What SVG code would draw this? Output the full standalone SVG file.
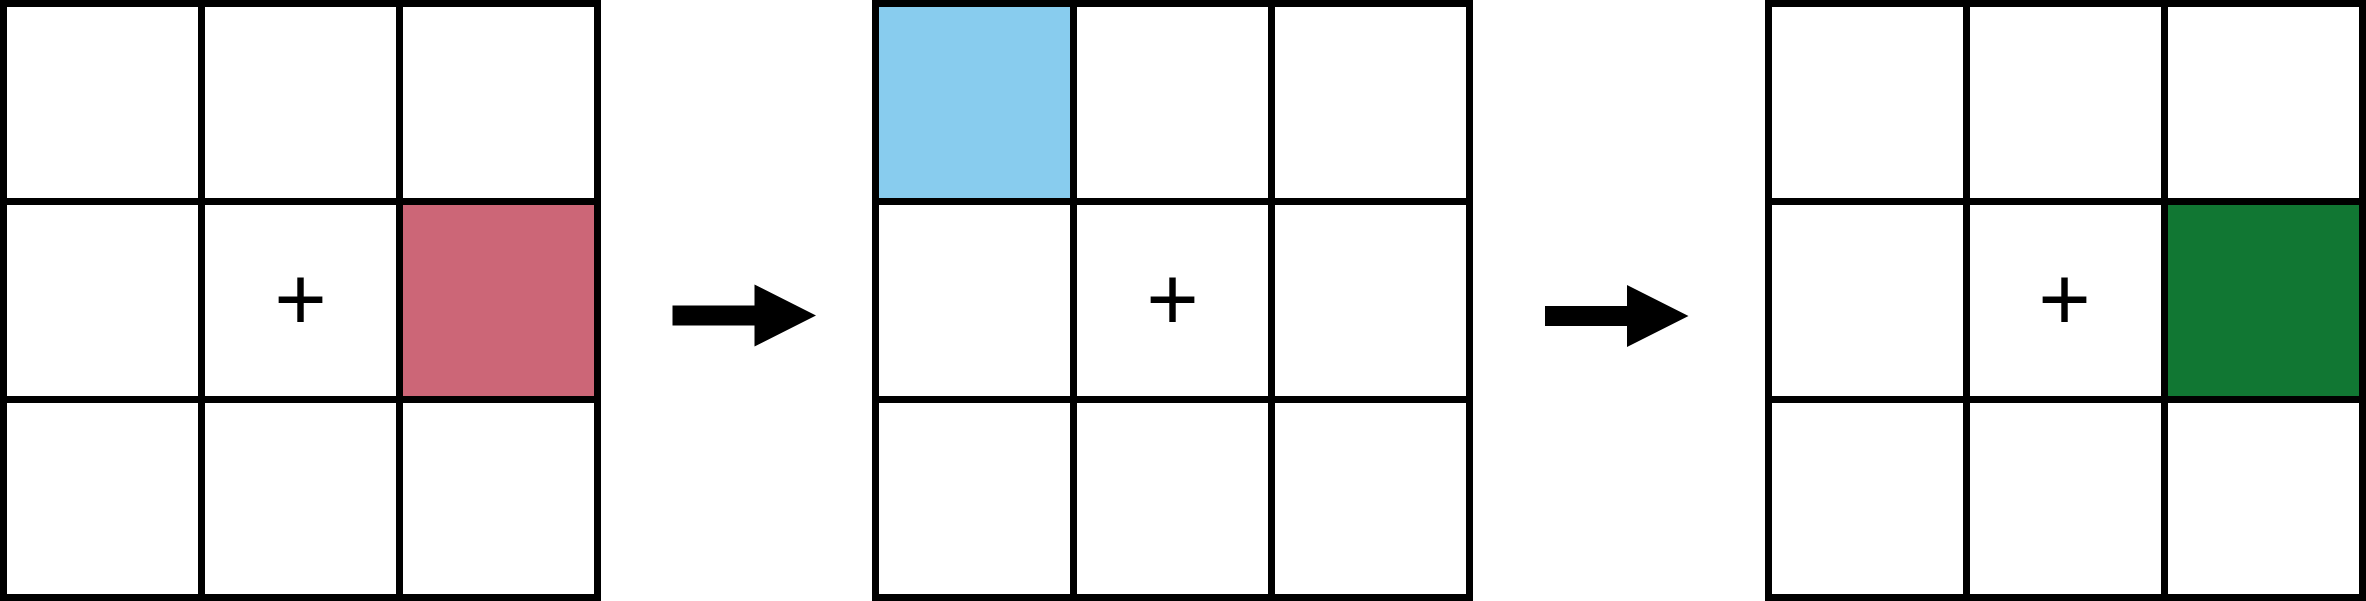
<svg xmlns="http://www.w3.org/2000/svg" width="2366" height="601" viewBox="0 0 2366 601">
  <style>
    .grid { fill: none; stroke: #000; stroke-width: 7; }
    .red { fill: #CC6677; }
    .blue { fill: #88CCEE; }
    .green { fill: #117733; }
    .plus { font-family: "Liberation Sans", Arial, sans-serif; font-size: 90px; fill: #000; text-anchor: middle; }
    .arrow { fill: #000; }
  </style>
  <defs>
    <g id="gridlines">
      <rect class="grid" x="3.5" y="3.5" width="594" height="594"/>
      <line class="grid" x1="201.5" y1="3.5" x2="201.5" y2="597.5"/>
      <line class="grid" x1="399.5" y1="3.5" x2="399.5" y2="597.5"/>
      <line class="grid" x1="3.5" y1="201.5" x2="597.5" y2="201.5"/>
      <line class="grid" x1="3.5" y1="399.5" x2="597.5" y2="399.5"/>
    </g>
    <polygon id="arrowshape" class="arrow" points="0,0 82,0 82,-21 143.5,10 82,41 82,20 0,20"/>
  </defs>
  <rect x="0" y="0" width="2366" height="601" fill="#fff"/>

  <g id="grid1">
    <rect class="red" x="399.5" y="201.5" width="198" height="198"/>
    <use href="#gridlines"/>
    <text class="plus" x="300.5" y="330">+</text>
  </g>

  <g id="grid2">
    <rect class="blue" x="875.5" y="3.5" width="198" height="198"/>
    <use href="#gridlines" transform="translate(872,0)"/>
    <text class="plus" x="1172.5" y="330">+</text>
  </g>

  <g id="grid3">
    <rect class="green" x="2164.5" y="201.5" width="198" height="198"/>
    <use href="#gridlines" transform="translate(1765,0)"/>
    <text class="plus" x="2064.5" y="330">+</text>
  </g>

  <g id="connectors">
    <use href="#arrowshape" transform="translate(672.5,305.5)"/>
    <use href="#arrowshape" transform="translate(1545,306)"/>
  </g>
</svg>
